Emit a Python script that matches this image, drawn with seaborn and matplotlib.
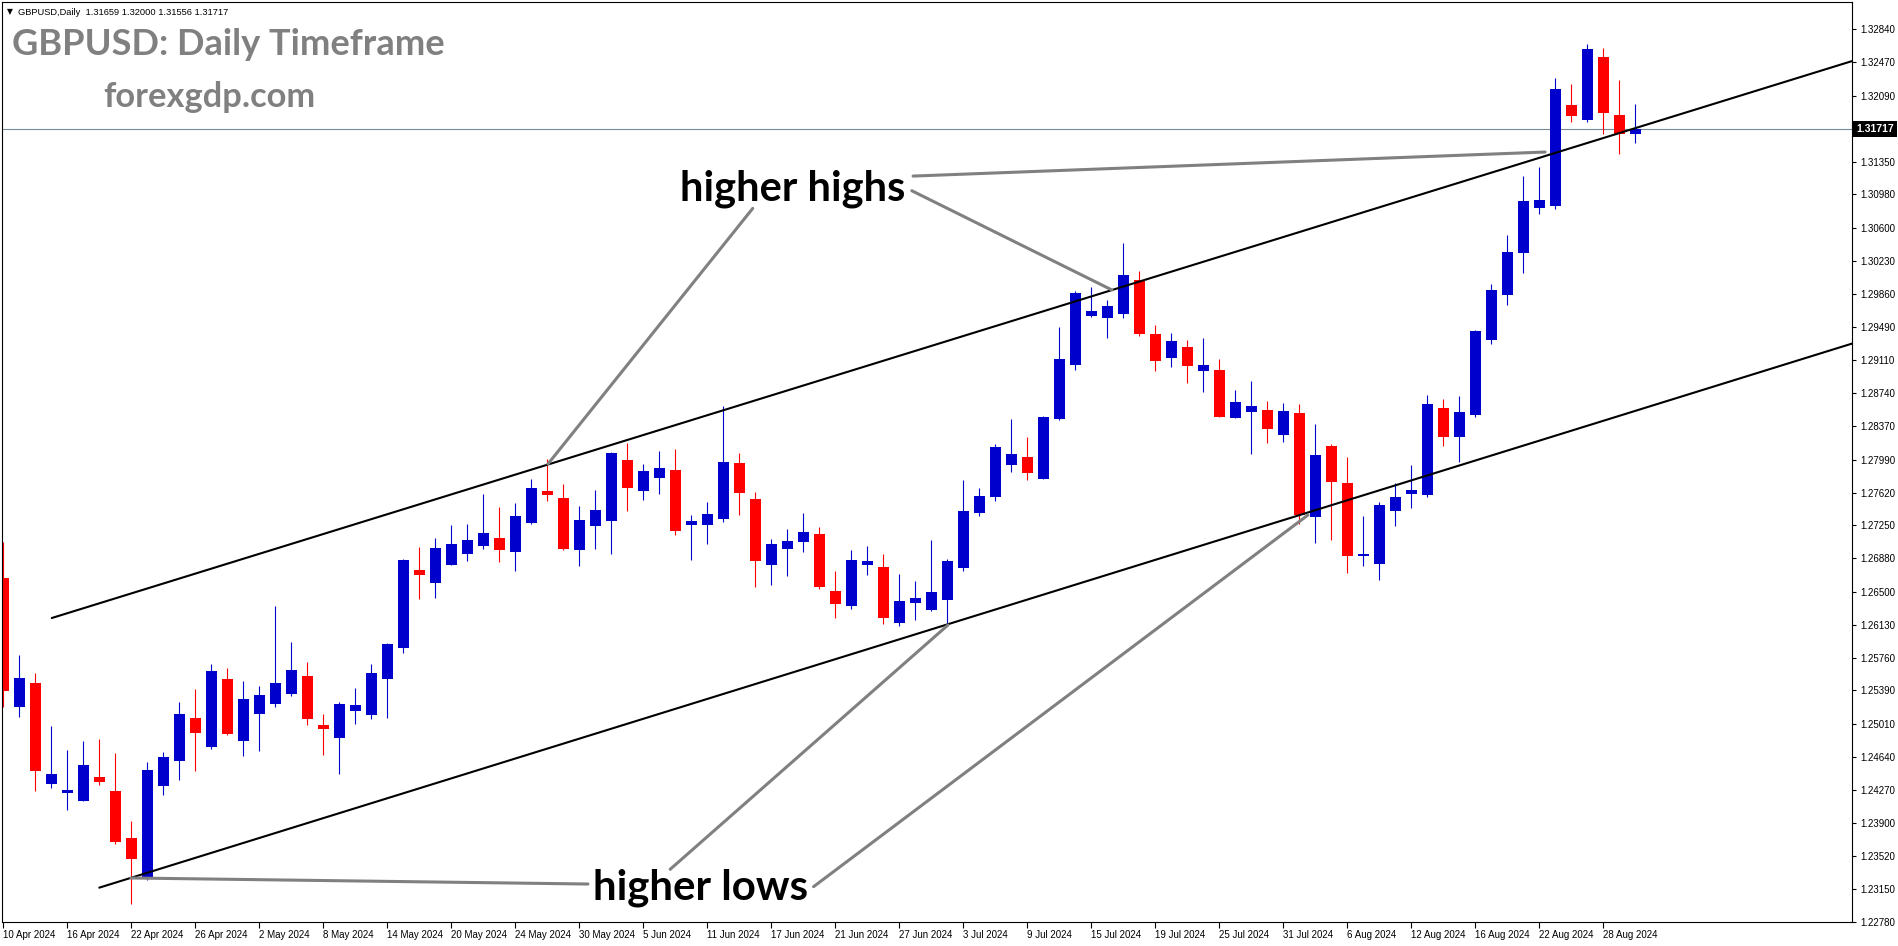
import matplotlib
matplotlib.use("Agg")
import matplotlib.pyplot as plt
import matplotlib.transforms as mtransforms
import seaborn as sns
import pandas as pd
import numpy as np

# GBPUSD daily candles, 10 Apr 2024 .. 30 Aug 2024
opens = [1.26653, 1.25200, 1.25474, 1.24339, 1.24237, 1.24147, 1.24414, 1.24256, 1.23727, 1.23272,
         1.24316, 1.24598, 1.25079, 1.24756, 1.25519, 1.24823, 1.25128, 1.25240, 1.25353, 1.25552,
         1.25000, 1.24857, 1.25161, 1.25116, 1.25522, 1.25871, 1.26747, 1.26604, 1.26807, 1.26931,
         1.27021, 1.27108, 1.26953, 1.27280, 1.27637, 1.27558, 1.26976, 1.27246, 1.27303, 1.27987,
         1.27641, 1.27787, 1.27874, 1.27258, 1.27258, 1.27325, 1.27953, 1.27547, 1.26807, 1.26987,
         1.27066, 1.27153, 1.26510, 1.26345, 1.26807, 1.26781, 1.26153, 1.26378, 1.26300, 1.26412,
         1.26773, 1.27393, 1.27573, 1.27934, 1.28021, 1.27776, 1.28452, 1.29061, 1.29613, 1.29590,
         1.29636, 1.30015, 1.29407, 1.29140, 1.29260, 1.28993, 1.29001, 1.28463, 1.28531, 1.28550,
         1.28272, 1.28516, 1.27348, 1.28145, 1.27728, 1.26905, 1.26818, 1.27415, 1.27607, 1.27596,
         1.28578, 1.28241, 1.28491, 1.29339, 1.29847, 1.30322, 1.30830, 1.30853, 1.31992, 1.31816,
         1.32534, 1.31881, 1.31659]
highs = [1.27066, 1.25789, 1.25586, 1.24989, 1.24718, 1.24820, 1.24842, 1.24685, 1.23918, 1.24583,
         1.24696, 1.25259, 1.25406, 1.25688, 1.25643, 1.25496, 1.25440, 1.26341, 1.25936, 1.25710,
         1.25124, 1.25259, 1.25417, 1.25688, 1.25921, 1.26870, 1.27006, 1.27108, 1.27254, 1.27265,
         1.27604, 1.27457, 1.27502, 1.27773, 1.27998, 1.27716, 1.27468, 1.27649, 1.28077, 1.28178,
         1.27942, 1.28088, 1.28111, 1.27367, 1.27513, 1.28595, 1.28066, 1.27626, 1.27096, 1.27209,
         1.27389, 1.27232, 1.26736, 1.26972, 1.27017, 1.26927, 1.26702, 1.26623, 1.27085, 1.26871,
         1.27761, 1.27671, 1.28167, 1.28449, 1.28246, 1.28482, 1.29486, 1.29891, 1.29936, 1.29790,
         1.30432, 1.30117, 1.29508, 1.29418, 1.29339, 1.29362, 1.29125, 1.28776, 1.28877, 1.28652,
         1.28629, 1.28618, 1.28392, 1.28167, 1.28021, 1.27356, 1.27513, 1.27728, 1.27930, 1.28724,
         1.28678, 1.28711, 1.29457, 1.29970, 1.30524, 1.31190, 1.31292, 1.32298, 1.32221, 1.32676,
         1.32627, 1.32275, 1.32000]
lows = [1.25200, 1.25094, 1.24260, 1.24294, 1.24046, 1.24140, 1.24324, 1.23662, 1.22986, 1.23253,
        1.24215, 1.24384, 1.24485, 1.24726, 1.24891, 1.24654, 1.24711, 1.25206, 1.25330, 1.25004,
        1.24665, 1.24451, 1.25015, 1.25071, 1.25082, 1.25815, 1.26424, 1.26435, 1.26800, 1.26852,
        1.26987, 1.26841, 1.26739, 1.27269, 1.27528, 1.26976, 1.26796, 1.26987, 1.26931, 1.27415,
        1.27539, 1.27607, 1.27145, 1.26863, 1.27043, 1.27291, 1.27370, 1.26559, 1.26581, 1.26683,
        1.26953, 1.26536, 1.26209, 1.26311, 1.26694, 1.26142, 1.26119, 1.26187, 1.26290, 1.26116,
        1.26739, 1.27359, 1.27528, 1.27855, 1.27765, 1.27770, 1.28440, 1.29004, 1.29602, 1.29365,
        1.29590, 1.29388, 1.28993, 1.29038, 1.28858, 1.28756, 1.28470, 1.28455, 1.28058, 1.28182,
        1.28193, 1.27269, 1.27055, 1.27089, 1.26717, 1.26792, 1.26638, 1.27243, 1.27450, 1.27569,
        1.28150, 1.27966, 1.28467, 1.29293, 1.29732, 1.30095, 1.30765, 1.30811, 1.31793, 1.31793,
        1.31666, 1.31438, 1.31556]
closes = [1.25387, 1.25527, 1.24485, 1.24448, 1.24268, 1.24549, 1.24361, 1.23685, 1.23493, 1.24493,
          1.24640, 1.25124, 1.24913, 1.25609, 1.24902, 1.25293, 1.25338, 1.25474, 1.25620, 1.25071,
          1.24958, 1.25237, 1.25226, 1.25586, 1.25913, 1.26860, 1.26694, 1.26995, 1.27040, 1.27085,
          1.27164, 1.26976, 1.27356, 1.27671, 1.27596, 1.26984, 1.27311, 1.27423, 1.28066, 1.27675,
          1.27863, 1.27897, 1.27190, 1.27299, 1.27378, 1.27964, 1.27618, 1.26852, 1.27040, 1.27074,
          1.27175, 1.26559, 1.26367, 1.26860, 1.26848, 1.26209, 1.26398, 1.26431, 1.26499, 1.26848,
          1.27412, 1.27581, 1.28133, 1.28054, 1.27844, 1.28471, 1.29125, 1.29869, 1.29666, 1.29722,
          1.30072, 1.29410, 1.29106, 1.29328, 1.29050, 1.29057, 1.28475, 1.28640, 1.28595, 1.28340,
          1.28539, 1.27370, 1.28043, 1.27742, 1.26908, 1.26927, 1.27480, 1.27570, 1.27649, 1.28623,
          1.28241, 1.28532, 1.29446, 1.29900, 1.30329, 1.30907, 1.30918, 1.32163, 1.31861, 1.32615,
          1.31896, 1.31666, 1.31717]

date_labels = ["10 Apr 2024", "16 Apr 2024", "22 Apr 2024", "26 Apr 2024", "2 May 2024",
               "8 May 2024", "14 May 2024", "20 May 2024", "24 May 2024", "30 May 2024",
               "5 Jun 2024", "11 Jun 2024", "17 Jun 2024", "21 Jun 2024", "27 Jun 2024",
               "3 Jul 2024", "9 Jul 2024", "15 Jul 2024", "19 Jul 2024", "25 Jul 2024",
               "31 Jul 2024", "6 Aug 2024", "12 Aug 2024", "16 Aug 2024", "22 Aug 2024",
               "28 Aug 2024"]
price_ticks = [1.32840, 1.32470, 1.32090, 1.31350, 1.30980, 1.30600, 1.30230, 1.29860,
               1.29490, 1.29110, 1.28740, 1.28370, 1.27990, 1.27620, 1.27250, 1.26880,
               1.26500, 1.26130, 1.25760, 1.25390, 1.25010, 1.24640, 1.24270, 1.23900,
               1.23520, 1.23150, 1.22780]
last_price = 1.31717
header_text = "GBPUSD,Daily  1.31659 1.32000 1.31556 1.31717"

# channel lines: (bar index, price)
upper_x = [3.03, 115.54]
upper_y = [1.26206, 1.32483]
lower_x = [6.0, 115.54]
lower_y = [1.23167, 1.29299]

# grey pointer lines from the two labels
pointer_seg = ["hh1", "hh1", "hh2", "hh2", "hh3", "hh3", "hl1", "hl1", "hl2", "hl2", "hl3", "hl3"]
pointer_x = [46.84, 34.04, 56.78, 69.29, 56.86, 96.36, 7.98, 36.54, 41.68, 59.04, 50.64, 81.54]
pointer_y = [1.30823, 1.27942, 1.31022, 1.29903, 1.31187, 1.31458,
             1.23276, 1.23208, 1.23374, 1.26127, 1.23178, 1.27367]

W, H = 1898, 946
BULL = "#0000CC"
BEAR = "#FF0000"

sns.set_theme(style="white")
plt.rcParams["font.family"] = ["Liberation Sans", "DejaVu Sans"]

df = pd.DataFrame({"open": opens, "high": highs, "low": lows, "close": closes})
df["idx"] = np.arange(len(df))
df["bull"] = df["close"] >= df["open"]
df["color"] = np.where(df["bull"], BULL, BEAR)
df["bottom"] = df[["open", "close"]].min(axis=1)
df["body"] = (df["close"] - df["open"]).abs().clip(lower=0.00013)

fig = plt.figure(figsize=(W / 100, H / 100), dpi=100)
fig.patch.set_facecolor("white")
ax = fig.add_axes([2 / W, 24 / H, 1850 / W, 920 / H])
ax.set_facecolor("white")

ax.set_xlim(-0.08, 115.54)
ax.set_ylim(1.22780, 1.33149)

# candles
ax.vlines(df["idx"], df["low"], df["high"], colors=df["color"], linewidth=0.8, zorder=2)
ax.bar(df["idx"], df["body"], bottom=df["bottom"], width=0.69, color=df["color"],
       linewidth=0, zorder=2)

# current price line
ax.axhline(last_price, color="#778899", linewidth=0.8, zorder=1)

# channel
sns.lineplot(x=upper_x, y=upper_y, color="black", linewidth=1.5, ax=ax, zorder=3)
sns.lineplot(x=lower_x, y=lower_y, color="black", linewidth=1.5, ax=ax, zorder=3)

# pointers
pointers = pd.DataFrame({"seg": pointer_seg, "x": pointer_x, "y": pointer_y})
sns.lineplot(data=pointers, x="x", y="y", units="seg", estimator=None, sort=False,
             color="#808080", linewidth=2.2, ax=ax, zorder=3)

# axes styling
for sp in ax.spines.values():
    sp.set_color("black")
    sp.set_linewidth(0.8)
    sp.set_visible(True)

ax.yaxis.tick_right()
ax.set_yticks(price_ticks)
ax.set_yticklabels([f"{p:.5f}" for p in price_ticks])
ax.tick_params(axis="y", which="both", right=True, left=False, labelright=True,
               labelleft=False, direction="out", length=3, width=0.8, pad=3,
               labelsize=7, colors="black")

tick_idx = list(range(0, 4 * len(date_labels), 4))
ax.set_xticks(tick_idx)
ax.set_xticklabels(date_labels)
ax.tick_params(axis="x", bottom=True, direction="out", length=4, width=0.8, pad=1.5,
               labelsize=7, colors="black")
for lbl in ax.get_xticklabels():
    lbl.set_ha("left")
ax.set_xlabel("")
ax.set_ylabel("")
ax.grid(False)

# current price box on the axis
trans = mtransforms.blended_transform_factory(ax.transAxes, ax.transData)
ax.text(1.0 + 4 / 1850, last_price, f"{last_price:.5f}", transform=trans, ha="left",
        va="center", fontsize=7.5, color="white", fontweight="bold",
        bbox=dict(facecolor="black", edgecolor="none", pad=2.4), clip_on=False, zorder=5)

# labels on the chart
t_hh = ax.text(49.33, 1.30917, "higher highs", ha="center", va="baseline",
               fontsize=26, fontweight="bold", color="black", family=["Lato", "DejaVu Sans"],
               zorder=4)
t_hl = ax.text(43.59, 1.23028, "higher lows", ha="center", va="baseline",
               fontsize=26, fontweight="bold", color="black", family=["Lato", "DejaVu Sans"],
               zorder=4)

t_title = fig.text(11.7 / W, 1 - 55 / H, "GBPUSD: Daily Timeframe", ha="left", va="baseline",
                   fontsize=24, fontweight="bold", color="#808080", family=["Lato", "DejaVu Sans"])
t_site = fig.text(103 / W, 1 - 106.7 / H, "forexgdp.com", ha="left", va="baseline",
                  fontsize=20, fontweight="bold", color="#808080", family=["Lato", "DejaVu Sans"])
fig.text(7 / W, 1 - 14.5 / H, "\u25bc", ha="left", va="baseline", fontsize=5.5,
         color="black", family=["DejaVu Sans"])
t_head = fig.text(18.3 / W, 1 - 15 / H, header_text, ha="left", va="baseline", fontsize=7.5,
                  color="black")


def fit_width(t, width_px):
    fig.canvas.draw()
    r = fig.canvas.get_renderer()
    w = t.get_window_extent(r).width
    t.set_fontsize(t.get_fontsize() * width_px / w)


fit_width(t_hh, 225)
fit_width(t_hl, 215)
fit_width(t_title, 432)
fit_width(t_site, 212)
fit_width(t_head, 210)

fig.savefig("out.png", dpi=100, facecolor="white")
